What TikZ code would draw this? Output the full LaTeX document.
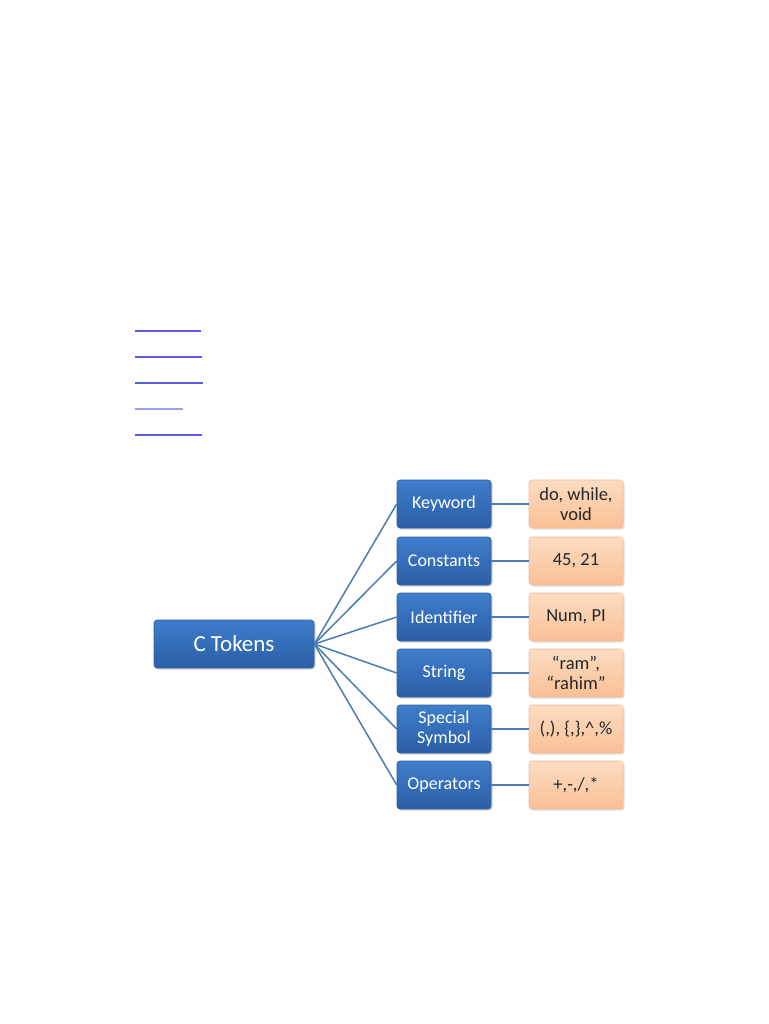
\documentclass[tikz,border=0pt]{standalone}
\usepackage{fontspec}
\setmainfont{Carlito}
\usetikzlibrary{shadows}

\definecolor{tokblue}{HTML}{3F7DCB}
\definecolor{tokbluedark}{HTML}{2B5EA6}
\definecolor{tokedge}{HTML}{2E5F9E}
\definecolor{exlight}{HTML}{FCDCC2}
\definecolor{exdark}{HTML}{F9C095}
\definecolor{exedge}{HTML}{F3BC92}
\definecolor{linkline}{HTML}{5A5AE6}
\definecolor{branch}{HTML}{4C7DB0}

\tikzset{
  catbox/.style={rounded corners=3pt, top color=tokblue, bottom color=tokbluedark,
    draw=tokedge, line width=0.6pt, text=white, minimum width=94pt, minimum height=48pt,
    align=center, inner sep=2pt, font=\fontsize{18}{20}\selectfont,
    drop shadow={shadow xshift=1.5pt, shadow yshift=-1.5pt, opacity=0.35}},
  exbox/.style={rounded corners=3pt, top color=exlight, bottom color=exdark,
    draw=exedge, line width=0.6pt, text=black!85, minimum width=94pt, minimum height=48pt,
    align=center, inner sep=2pt, font=\fontsize{18.5}{20.5}\selectfont,
    drop shadow={shadow xshift=1.5pt, shadow yshift=-1.5pt, opacity=0.25}},
  branchline/.style={draw=branch, line width=1.5pt},
  linkbar/.style={draw=linkline, line width=1.8pt}
}

\begin{document}
\begin{tikzpicture}[x=1pt, y=-1pt]
\useasboundingbox (0,0) rectangle (768,1024);
% Link underlines
\draw[linkbar] (135,331) -- (201,331);
\draw[linkbar] (135,357) -- (202,357);
\draw[linkbar] (135,383) -- (203,383);
\draw[linkbar, draw=linkline!60] (135,409) -- (183,409);
\draw[linkbar, line width=2.2pt] (135,435) -- (202,435);
% Root
\node[catbox, minimum width=160pt, font=\fontsize{23}{26}\selectfont] (root) at (234,644) {C Tokens};
% Categories
\node[catbox] (kw) at (444,504) {Keyword};
\node[catbox] (const) at (444,561) {Constants};
\node[catbox] (ident) at (444,617) {Identifier};
\node[catbox] (str) at (444,673) {String};
\node[catbox] (spec) at (444,729) {Special\\Symbol};
\node[catbox] (oper) at (444,785) {Operators};
% Examples
\node[exbox] (kwex) at (576,504) {do, while,\\void};
\node[exbox] (constex) at (576,561) {45, 21};
\node[exbox] (identex) at (576,617) {Num, PI};
\node[exbox] (strex) at (576,673) {“ram”,\\“rahim”};
\node[exbox] (specex) at (576,729) {(,), \{,\},\textasciicircum,\%};
\node[exbox] (operex) at (576,785) {+,-,/,*};
% Connectors
\foreach \cat in {kw,const,ident,str,spec,oper} {
  \draw[branchline] (root.east) -- (\cat.west);
  \draw[branchline] (\cat.east) -- (\cat ex.west);
}
\end{tikzpicture}
\end{document}
